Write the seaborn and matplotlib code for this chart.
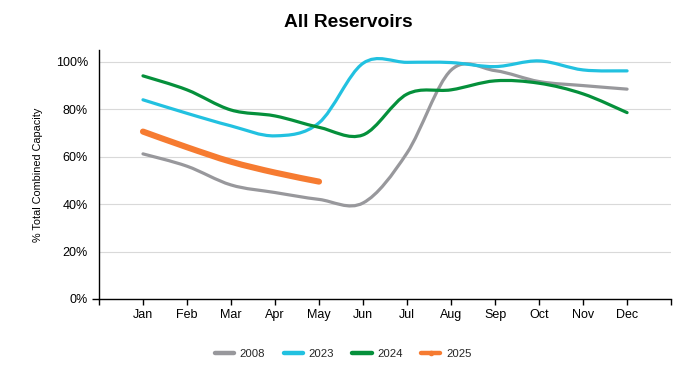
import numpy as np
import pandas as pd
import matplotlib
matplotlib.use('Agg')
import matplotlib.pyplot as plt
from matplotlib.path import Path
from matplotlib.patches import PathPatch
from matplotlib.lines import Line2D
import seaborn as sns

# Data (percent of total combined capacity)
months = ['Jan', 'Feb', 'Mar', 'Apr', 'May', 'Jun', 'Jul', 'Aug', 'Sep', 'Oct', 'Nov', 'Dec']
cap_2008 = [61.2, 56.0, 48.1, 44.9, 42.0, 40.5, 61.6, 96.5, 96.3, 91.7, 90.0, 88.5]
cap_2023 = [84.0, 78.3, 73.0, 68.8, 74.3, 99.4, 99.8, 99.7, 98.0, 100.4, 96.6, 96.2]
cap_2024 = [94.1, 88.2, 79.7, 77.2, 72.4, 69.2, 86.4, 88.2, 92.0, 91.0, 86.5, 78.6]
cap_2025 = [70.6, 64.0, 57.9, 53.3, 49.5]

series = {'2008': cap_2008, '2023': cap_2023, '2024': cap_2024, '2025': cap_2025}
colors = {'2008': '#98989c', '2023': '#22c1e0', '2024': '#05903b', '2025': '#f67b31'}
widths = {'2008': 2.3, '2023': 2.3, '2024': 2.3, '2025': 4.4}

rows = []
for year, vals in series.items():
    for i, v in enumerate(vals):
        rows.append({'year': year, 'month': i, 'pct': v})
df = pd.DataFrame(rows)

sns.set_theme(style='white')
plt.rcParams['font.family'] = ['Liberation Sans', 'DejaVu Sans']


def smooth_path(xs, ys):
    # Catmull-Rom style smoothing (like spreadsheet "smoothed line") as bezier curves
    pts = np.column_stack([xs, ys])
    n = len(pts)
    verts = [pts[0]]
    codes = [Path.MOVETO]
    for i in range(n - 1):
        p0 = pts[max(i - 1, 0)]
        p1 = pts[i]
        p2 = pts[i + 1]
        p3 = pts[min(i + 2, n - 1)]
        verts += [p1 + (p2 - p0) / 6, p2 - (p3 - p1) / 6, p2]
        codes += [Path.CURVE4] * 3
    return Path(verts, codes)


fig = plt.figure(figsize=(6.96, 3.78), dpi=100)
ax = fig.add_axes([0.1422, 0.209, 0.822, 0.6587])

for year in series:
    sub = df[df['year'] == year]
    sns.lineplot(data=sub, x='month', y='pct', ax=ax, color=colors[year],
                 linewidth=widths[year], legend=False)

# swap the straight polylines for smoothed curves
for line in list(ax.lines):
    xs, ys = line.get_data()
    patch = PathPatch(smooth_path(np.asarray(xs, float), np.asarray(ys, float)),
                      fill=False, edgecolor=line.get_color(), lw=line.get_linewidth(),
                      capstyle='round', joinstyle='round', zorder=3)
    ax.add_patch(patch)
    line.set_visible(False)

ax.set_xlim(-1, 12)
ax.set_ylim(0, 105)
ax.set_xticks(range(-1, 13))
ax.set_xticklabels([''] + months + [''], fontsize=9, color='black')
ax.set_yticks(range(0, 101, 20))
ax.set_yticklabels([f'{v}%' for v in range(0, 101, 20)], fontsize=9, color='black')
ax.tick_params(axis='x', length=4, width=1, color='black', pad=3, bottom=True)
ax.tick_params(axis='y', length=5, width=1, color='black', pad=3, left=True)
# only the 0% tick gets a visible tick mark
for t in ax.yaxis.get_major_ticks()[1:]:
    t.tick1line.set_visible(False)
ax.yaxis.grid(True, color='#d9d9d9', linewidth=0.8)
ax.set_axisbelow(True)
for side in ['top', 'right']:
    ax.spines[side].set_visible(False)
for side in ['left', 'bottom']:
    ax.spines[side].set_color('black')
    ax.spines[side].set_linewidth(1.0)

ax.set_xlabel('')
ax.set_ylabel('% Total Combined Capacity', fontsize=7.8, color='black', labelpad=9)
fig.text(0.5, 0.94, 'All Reservoirs', fontsize=13.8, fontweight='bold', color='black',
         ha='center', va='center')

handles = []
for year in series:
    mk = 'o' if year == '2025' else None
    handles.append(Line2D([], [], color=colors[year], lw=3.2, marker=mk, markersize=3))
fig.legend(handles, list(series.keys()), loc='center', bbox_to_anchor=(0.493, 0.063),
           ncol=4, frameon=False, fontsize=8.2, handlelength=1.7, handletextpad=0.5,
           columnspacing=1.6)

plt.savefig('out.png', dpi=100)
